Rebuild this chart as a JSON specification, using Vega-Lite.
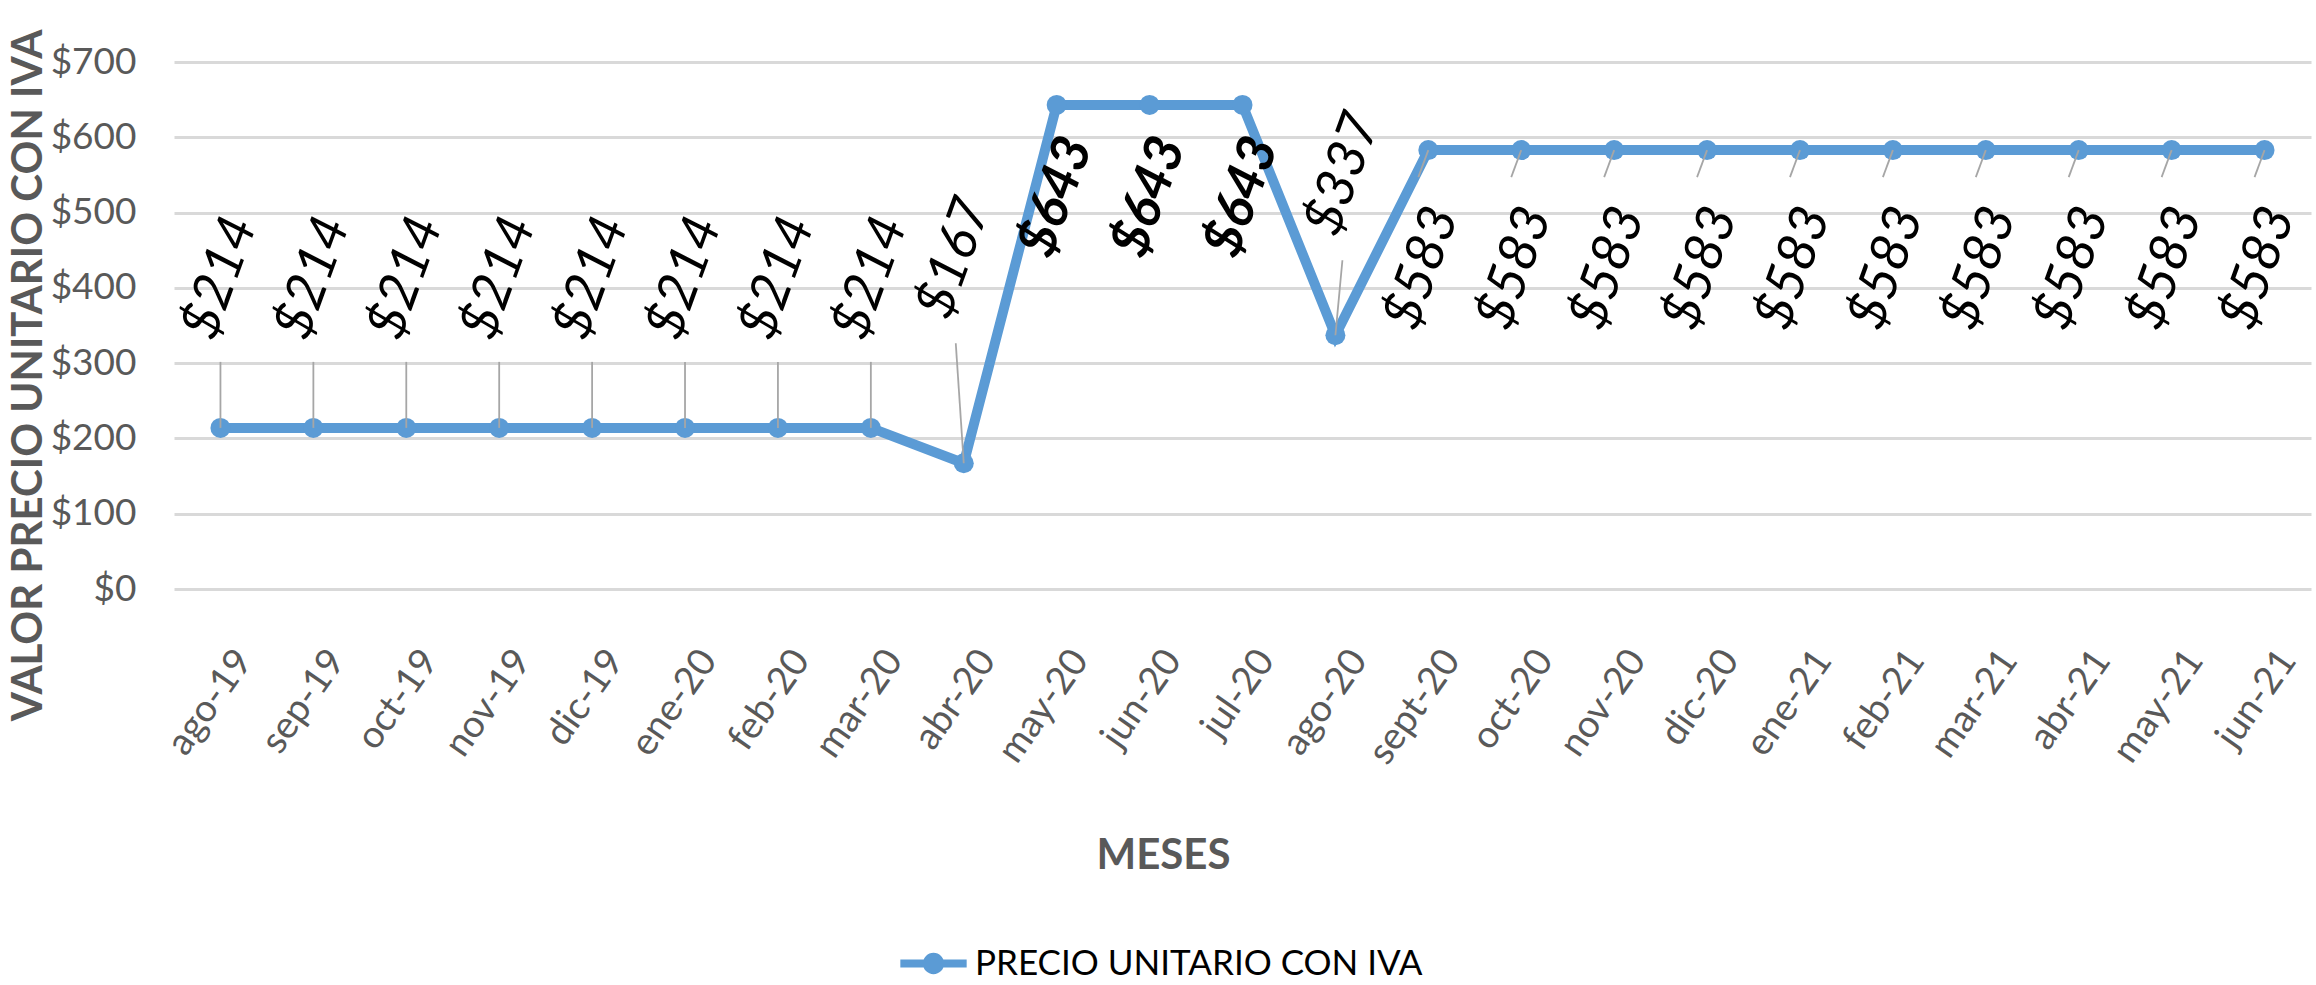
{
  "$schema": "https://vega.github.io/schema/vega-lite/v6.json",
  "autosize": "none",
  "width": 2137,
  "height": 527,
  "padding": {"left": 174, "top": 62, "right": 5, "bottom": 396},
  "background": "white",
  "config": {"font": "Lato", "view": {"stroke": null}},
  "data": {
    "values": [
      {"mes": "ago-19", "precio": 214, "serie": "PRECIO UNITARIO CON IVA"},
      {"mes": "sep-19", "precio": 214, "serie": "PRECIO UNITARIO CON IVA"},
      {"mes": "oct-19", "precio": 214, "serie": "PRECIO UNITARIO CON IVA"},
      {"mes": "nov-19", "precio": 214, "serie": "PRECIO UNITARIO CON IVA"},
      {"mes": "dic-19", "precio": 214, "serie": "PRECIO UNITARIO CON IVA"},
      {"mes": "ene-20", "precio": 214, "serie": "PRECIO UNITARIO CON IVA"},
      {"mes": "feb-20", "precio": 214, "serie": "PRECIO UNITARIO CON IVA"},
      {"mes": "mar-20", "precio": 214, "serie": "PRECIO UNITARIO CON IVA"},
      {"mes": "abr-20", "precio": 167, "serie": "PRECIO UNITARIO CON IVA"},
      {"mes": "may-20", "precio": 643, "serie": "PRECIO UNITARIO CON IVA"},
      {"mes": "jun-20", "precio": 643, "serie": "PRECIO UNITARIO CON IVA"},
      {"mes": "jul-20", "precio": 643, "serie": "PRECIO UNITARIO CON IVA"},
      {"mes": "ago-20", "precio": 337, "serie": "PRECIO UNITARIO CON IVA"},
      {"mes": "sept-20", "precio": 583, "serie": "PRECIO UNITARIO CON IVA"},
      {"mes": "oct-20", "precio": 583, "serie": "PRECIO UNITARIO CON IVA"},
      {"mes": "nov-20", "precio": 583, "serie": "PRECIO UNITARIO CON IVA"},
      {"mes": "dic-20", "precio": 583, "serie": "PRECIO UNITARIO CON IVA"},
      {"mes": "ene-21", "precio": 583, "serie": "PRECIO UNITARIO CON IVA"},
      {"mes": "feb-21", "precio": 583, "serie": "PRECIO UNITARIO CON IVA"},
      {"mes": "mar-21", "precio": 583, "serie": "PRECIO UNITARIO CON IVA"},
      {"mes": "abr-21", "precio": 583, "serie": "PRECIO UNITARIO CON IVA"},
      {"mes": "may-21", "precio": 583, "serie": "PRECIO UNITARIO CON IVA"},
      {"mes": "jun-21", "precio": 583, "serie": "PRECIO UNITARIO CON IVA"}
    ]
  },
  "encoding": {
    "x": {
      "field": "mes", "type": "ordinal", "sort": null,
      "scale": {"type": "point", "padding": 0.5},
      "axis": {
        "title": "MESES",
        "labelAngle": -55, "labelAlign": "right", "labelBaseline": "top",
        "labelFontSize": 38, "labelColor": "#595959", "labelFont": "Lato",
        "labelPadding": 54, "labelOffset": 8,
        "ticks": false, "tickSize": 0, "domain": false, "grid": false,
        "titleFontSize": 42, "titleColor": "#595959", "titleFontWeight": "bold", "titleFont": "Lato",
        "titleX": 989, "titleY": 266, "titleBaseline": "middle", "titleAlign": "center"
      }
    },
    "y": {
      "field": "precio", "type": "quantitative",
      "scale": {"domain": [0, 700]},
      "axis": {
        "title": "VALOR PRECIO UNITARIO CON IVA",
        "values": [0, 100, 200, 300, 400, 500, 600, 700],
        "format": "$.0f",
        "labelFontSize": 37, "labelColor": "#595959", "labelFont": "Lato",
        "labelPadding": 38, "ticks": false, "tickSize": 0, "domain": false,
        "gridColor": "#D9D9D9", "gridWidth": 3,
        "titleFontSize": 42, "titleColor": "#595959", "titleFontWeight": "bold", "titleFont": "Lato",
        "titleX": -146, "titleY": 313, "titleBaseline": "middle", "titleAlign": "center", "titleAngle": -90
      }
    }
  },
  "layer": [
    {
      "mark": {"type": "line", "strokeWidth": 10},
      "encoding": {
        "color": {
          "field": "serie", "type": "nominal",
          "scale": {"range": ["#5B9BD5"]},
          "legend": {
            "orient": "none", "legendX": 722, "legendY": 864,
            "title": null,
            "symbolType": "M-1,0L1,0M-0.2,0A0.2,0.2,0,1,0,0.2,0A0.2,0.2,0,1,0,-0.2,0Z",
            "symbolSize": 4400, "symbolStrokeWidth": 8,
            "symbolFillColor": "#5B9BD5", "symbolStrokeColor": "#5B9BD5",
            "labelFontSize": 35, "labelColor": "#000000", "labelFont": "Lato",
            "labelOffset": 4, "labelLimit": 0, "padding": 0
          }
        }
      }
    },
    {
      "mark": {"type": "point", "filled": true, "size": 400, "color": "#5B9BD5", "opacity": 1}
    },
    {
      "transform": [{"filter": {"field": "precio", "equal": 214}}],
      "mark": {"type": "rule", "color": "#A6A6A6", "strokeWidth": 1.8, "y2Offset": -66},
      "encoding": {"y2": {"field": "precio"}, "x2": {"field": "mes"}}
    },
    {
      "transform": [{"filter": {"field": "precio", "equal": 167}}],
      "mark": {"type": "rule", "color": "#A6A6A6", "strokeWidth": 1.8, "y2Offset": -120, "x2Offset": -8},
      "encoding": {"y2": {"field": "precio"}, "x2": {"field": "mes"}}
    },
    {
      "transform": [{"filter": {"field": "precio", "equal": 337}}],
      "mark": {"type": "rule", "color": "#A6A6A6", "strokeWidth": 1.8, "y2Offset": -75, "x2Offset": 7},
      "encoding": {"y2": {"field": "precio"}, "x2": {"field": "mes"}}
    },
    {
      "transform": [{"filter": {"field": "precio", "equal": 583}}],
      "mark": {"type": "rule", "color": "#A6A6A6", "strokeWidth": 1.8, "y2Offset": 27, "x2Offset": -10},
      "encoding": {"y2": {"field": "precio"}, "x2": {"field": "mes"}}
    },
    {
      "transform": [{"filter": {"field": "precio", "equal": 214}}],
      "mark": {"type": "text", "angle": -70, "fontSize": 54, "fontStyle": "italic", "font": "Lato", "color": "#000000", "align": "center", "baseline": "middle", "yOffset": -150},
      "encoding": {"text": {"field": "precio", "type": "quantitative", "format": "$.0f"}}
    },
    {
      "transform": [{"filter": {"field": "precio", "equal": 167}}],
      "mark": {"type": "text", "angle": -70, "fontSize": 54, "fontStyle": "italic", "font": "Lato", "color": "#000000", "align": "center", "baseline": "middle", "yOffset": -205, "xOffset": -9},
      "encoding": {"text": {"field": "precio", "type": "quantitative", "format": "$.0f"}}
    },
    {
      "transform": [{"filter": {"field": "precio", "equal": 337}}],
      "mark": {"type": "text", "angle": -70, "fontSize": 54, "fontStyle": "italic", "font": "Lato", "color": "#000000", "align": "center", "baseline": "middle", "yOffset": -161, "xOffset": 8},
      "encoding": {"text": {"field": "precio", "type": "quantitative", "format": "$.0f"}}
    },
    {
      "transform": [{"filter": {"field": "precio", "equal": 643}}],
      "mark": {"type": "text", "angle": -70, "fontSize": 54, "fontStyle": "italic", "fontWeight": "bold", "font": "Lato", "color": "#000000", "align": "center", "baseline": "middle", "yOffset": 92, "xOffset": 0},
      "encoding": {"text": {"field": "precio", "type": "quantitative", "format": "$.0f"}}
    },
    {
      "transform": [{"filter": {"field": "precio", "equal": 583}}],
      "mark": {"type": "text", "angle": -70, "fontSize": 54, "fontStyle": "italic", "font": "Lato", "color": "#000000", "align": "center", "baseline": "middle", "yOffset": 118, "xOffset": -6},
      "encoding": {"text": {"field": "precio", "type": "quantitative", "format": "$.0f"}}
    }
  ]
}
